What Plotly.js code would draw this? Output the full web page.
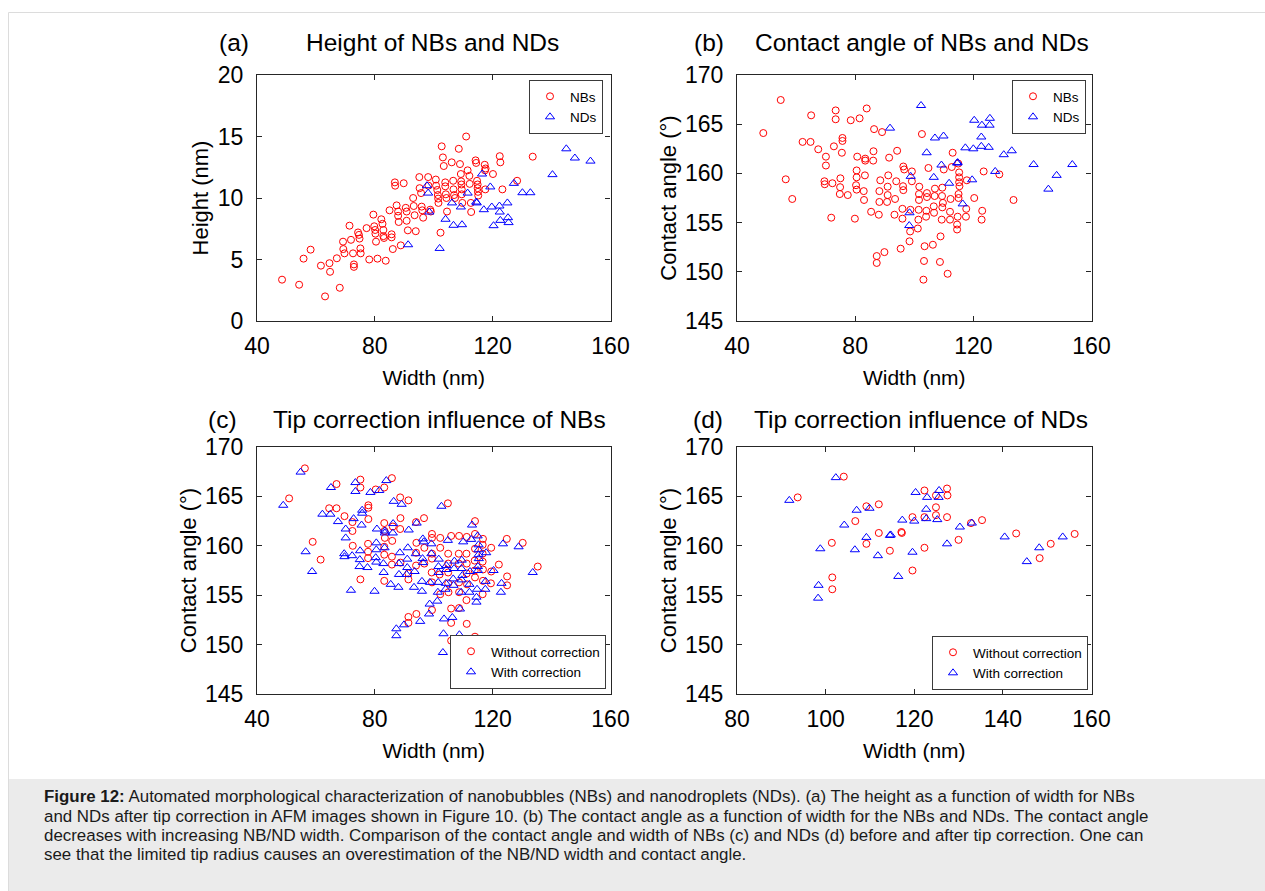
<!DOCTYPE html>
<html>
<head>
<meta charset="utf-8">
<script src="https://cdn.plot.ly/plotly-3.0.1.min.js"></script>
<style>
  html, body { margin: 0; padding: 0; background: #ffffff; }
  #chart { width: 1265px; height: 891px; }
</style>
</head>
<body>
<div id="chart"></div>
<script>
// ---------------- data ----------------
// (a) Height vs width (after tip correction)
const nbWidthA = [48.5,54.3,55.8,58.2,61.7,64.6,64.8,63.1,68.1,67.1,
  69.7,69.3,69.2,71.4,71.9,72.6,72.9,72.9,74.3,74.6,
  74.8,75.1,75.2,77.2,78.1,79.5,79.8,80.1,80.2,80.4,
  80.9,82.2,82.6,82.9,82.9,83.1,83.7,85.0,85.7,86.1,
  85.7,86.8,86.9,89.8,87.4,87.9,87.9,88.1,88.8,90.5,
  90.8,90.8,91.2,93.0,93.2,93.5,93.9,95.1,95.2,95.7,
  95.9,96.1,96.4,98.1,98.2,98.8,99.0,100.7,100.8,101.2,
  101.4,101.5,101.6,102.3,102.7,103.1,103.4,103.9,103.9,104.1,
  104.3,104.5,106.1,106.6,106.7,106.9,107.2,108.5,108.9,109.2,
  109.3,109.4,109.5,109.5,109.7,111.0,111.5,112.1,112.2,112.6,
  112.7,114.2,114.4,114.7,114.9,114.9,115.0,115.1,117.3,117.4,
  117.5,117.6,120.1,122.4,122.6,123.3,128.3,133.6];
const nbHeightA = [3.36,2.95,5.07,5.8,4.5,4.7,4.0,2.0,2.7,5.1,
  5.5,5.85,6.45,7.75,6.6,5.5,4.6,4.4,7.2,7.0,
  6.7,5.9,5.5,7.55,5.0,8.65,7.7,7.4,7.1,6.45,
  5.07,8.27,7.9,7.4,6.9,6.75,4.9,9.0,7.05,5.85,
  6.8,11.27,11.0,11.2,9.4,8.9,8.55,8.05,6.15,9.2,
  8.9,8.15,7.37,10.0,9.35,8.6,7.3,11.7,10.8,10.4,
  9.3,9.0,8.4,11.7,11.0,9.05,8.9,11.5,11.0,10.65,
  10.24,9.95,9.6,7.18,14.2,13.3,12.6,11.27,10.95,10.3,
  10.0,8.9,12.9,11.4,10.7,10.24,10.0,14.0,12.76,11.95,
  11.35,11.1,10.7,10.3,9.6,15.0,12.25,11.8,11.15,9.6,
  8.86,13.06,12.85,11.4,11.1,10.8,10.5,10.2,12.7,12.25,
  10.7,12.4,11.95,13.4,12.9,10.7,11.4,13.36];
const ndWidthA = [91.3,102.0,97.7,98.1,98.5,104.0,106.2,106.7,109.2,109.6,
  111.5,114.4,114.6,116.4,117.0,119.2,119.7,120.3,122.3,122.4,
  122.6,125.0,125.2,125.4,127.2,130.1,132.8,140.3,145.0,147.9,153.2];
const ndHeightA = [6.2,5.9,11.0,10.4,8.86,8.27,9.6,7.78,9.27,7.83,
  10.4,9.67,9.6,11.95,9.05,10.9,9.27,7.75,9.35,8.86,
  8.18,9.6,8.4,8.0,11.19,10.43,10.43,11.9,14.0,13.25,13.0];

// (b) Contact angle vs width (after tip correction) - also the "With correction" series of (c) and (d)
const nbWidthB = [54.8,48.9,65.1,73.4,73.4,78.5,81.5,83.9,86.4,89.1,
  62.2,64.9,67.5,70.1,70.1,72.8,75.7,75.7,75.5,80.7,
  83.4,83.4,86.1,86.2,91.5,94.2,56.5,58.7,69.6,69.7,
  72.3,75.0,74.9,74.8,77.5,80.5,80.5,80.3,80.5,82.9,
  83.0,83.3,71.9,79.9,85.4,88.0,88.5,88.2,88.2,91.2,
  91.0,91.0,90.8,93.5,93.3,93.9,96.3,96.6,99.2,99.2,
  96.2,96.3,96.0,96.0,98.7,98.6,98.4,95.4,89.9,87.3,
  87.3,101.2,101.4,101.5,101.6,101.6,101.7,104.0,104.1,104.3,
  104.3,104.8,102.6,103.5,106.3,103.3,103.1,108.7,111.3,108.9,
  106.6,106.7,106.9,107.0,109.5,109.4,109.7,109.5,109.3,112.1,
  112.1,112.3,110.0,112.7,113.0,114.9,115.2,115.2,115.2,115.3,
  115.0,115.0,114.7,114.5,114.5,117.6,117.5,117.8,120.3,123.0,
  122.8,123.5,128.8,133.6];
const nbAngleB = [167.46,164.1,165.9,166.4,165.5,165.4,165.6,166.6,164.5,164.2,
  163.2,163.2,162.45,161.7,160.8,162.75,163.6,163.3,162.1,161.7,
  161.5,161.3,161.3,162.25,161.6,162.3,159.4,157.4,159.2,158.9,
  159.0,159.5,158.6,157.9,157.8,160.3,159.6,158.8,158.35,158.2,
  157.3,159.8,155.5,155.4,156.1,155.8,159.3,158.2,157.1,159.8,
  158.65,157.8,157.1,157.4,155.8,159.2,160.7,160.4,160.2,159.2,
  158.7,158.3,156.4,155.4,156.3,154.1,153.1,152.35,152.0,151.6,
  150.9,154.4,155.3,156.3,157.3,157.9,158.65,155.6,156.2,158.0,
  157.6,160.55,164.0,152.6,152.75,151.1,149.2,151.0,149.8,153.6,
  156.65,156.0,157.7,158.45,158.55,157.7,157.0,156.55,155.3,156.1,
  155.3,157.4,160.4,160.65,162.1,161.0,160.1,159.6,159.1,158.7,
  157.9,157.5,155.6,154.8,154.3,156.4,155.6,159.3,157.5,156.2,
  155.3,160.2,159.9,157.3];
const ndWidthB = [102.3,91.8,104.2,107.0,109.9,109.2,106.6,98.8,111.8,98.4,
  98.3,114.5,114.7,116.4,117.3,120.0,122.7,125.2,120.3,122.9,
  125.5,125.6,122.7,119.6,127.4,130.3,133.0,140.4,145.4,148.2,153.5];
const ndAngleB = [166.9,164.6,162.1,163.6,163.8,160.85,159.6,159.7,159.0,156.0,
  154.7,161.05,161.1,156.9,162.6,162.5,162.75,162.65,165.4,164.9,
  164.9,165.6,163.7,159.35,160.2,161.9,162.3,160.9,158.4,159.8,160.9];

// (c) NBs without tip correction
const nbWidthRaw = [56.25,50.9,67.0,64.5,67.0,58.9,61.6,69.7,72.4,72.4,
  72.5,75.1,75.1,77.8,77.8,77.8,77.7,77.7,77.7,80.3,
  83.2,85.8,83.2,83.3,83.4,83.2,83.2,86.1,85.9,85.8,
  85.8,88.6,91.4,88.7,88.6,83.2,75.1,88.7,91.4,91.4,
  94.0,96.7,94.1,94.0,94.0,96.8,96.8,99.4,99.4,99.4,
  99.4,102.2,102.2,102.0,99.3,99.4,104.8,104.9,104.9,104.9,
  104.9,105.0,102.2,99.4,94.1,91.4,91.4,105.9,105.9,105.9,
  108.6,111.2,114.0,108.6,108.6,108.5,108.5,105.9,108.6,111.2,
  111.1,111.2,111.2,111.3,111.1,114.0,114.0,114.0,113.9,113.9,
  114.0,116.7,116.6,116.6,116.6,116.7,116.7,116.6,119.5,119.5,
  119.4,122.1,124.8,124.9,124.9,130.2,135.3];
const nbAngleRaw = [167.84,164.8,166.25,163.8,163.8,160.4,158.6,163.0,162.4,161.5,
  160.0,166.7,165.9,164.1,163.85,162.7,160.2,159.4,158.75,165.7,
  165.9,166.85,162.3,161.5,160.8,159.9,159.1,161.95,160.5,158.9,
  158.1,164.9,164.6,162.8,161.7,156.45,156.6,158.3,157.2,156.6,
  162.4,162.8,160.3,159.3,158.0,159.8,158.2,161.2,160.8,159.2,
  158.7,160.8,159.8,157.1,157.3,156.3,164.3,159.2,158.2,157.3,
  156.2,155.3,155.1,153.5,153.1,152.8,152.2,153.65,152.2,150.4,
  153.7,152.1,150.8,155.3,156.3,158.2,159.2,161.0,161.0,160.9,
  159.2,158.2,157.2,156.1,154.5,162.5,161.2,159.7,158.5,157.5,
  156.8,160.7,160.1,159.2,158.4,157.6,156.45,155.1,159.8,157.4,
  156.2,158.1,160.7,156.9,156.0,160.3,157.9];

// (d) NDs without tip correction
const ndWidthRaw = [93.7,104.1,101.4,101.5,101.5,106.7,109.2,112.0,109.2,112.0,
  114.5,117.1,117.2,119.6,119.6,122.3,122.3,122.3,124.9,124.9,
  124.9,127.4,127.5,127.4,130.0,132.8,135.3,143.0,148.3,150.8,156.2];
const ndAngleRaw = [164.9,167.0,160.3,156.8,155.6,162.5,164.0,164.2,160.2,161.3,
  159.5,161.4,161.3,162.9,157.5,165.6,162.9,159.8,165.1,163.9,
  163.1,165.8,165.1,162.9,160.6,162.3,162.6,161.25,158.75,160.2,161.2];

// tick labels
const xTicksWide = [40, 80, 120, 160];
const xTicksND = [80, 100, 120, 140, 160];
const yTicksHeight = [0, 5, 10, 15, 20];
const yTicksAngle = [145, 150, 155, 160, 165, 170];

// texts
const panelTags = ['(a)', '(b)', '(c)', '(d)'];
const panelTitles = ['Height of NBs and NDs', 'Contact angle of NBs and NDs',
  'Tip correction influence of NBs', 'Tip correction influence of NDs'];
const captionLines = [
  '<b>Figure 12:</b> Automated morphological characterization of nanobubbles (NBs) and nanodroplets (NDs). (a) The height as a function of width for NBs',
  'and NDs after tip correction in AFM images shown in Figure 10. (b) The contact angle as a function of width for the NBs and NDs. The contact angle',
  'decreases with increasing NB/ND width. Comparison of the contact angle and width of NBs (c) and NDs (d) before and after tip correction. One can',
  'see that the limited tip radius causes an overestimation of the NB/ND width and contact angle.'
];

// ---------------- layout helpers (pixel -> paper) ----------------
const W = 1265, H = 891;
const px = v => v / W;
const py = v => 1 - v / H;
const FONT = 'Liberation Sans, Arial, Helvetica, sans-serif';

function axis(domain, range, tickvals, titleText, anchor, isY) {
  return {
    domain: domain, range: range, anchor: anchor,
    tickvals: tickvals, ticktext: tickvals.map(String),
    showline: true, linecolor: '#262626', linewidth: 1.3, mirror: 'allticks',
    ticks: 'inside', ticklen: 5, tickwidth: 1.3, tickcolor: '#262626',
    showgrid: false, zeroline: false, fixedrange: true,
    ticklabelstandoff: isY ? 8 : 4,
    tickfont: { family: FONT, size: 23, color: '#000' },
    title: { text: titleText, font: { family: FONT, size: isY ? 22 : 21, color: '#000' }, standoff: isY ? 2 : 12 }
  };
}

const red = '#ff0000', blue = '#0000ff';
function circles(x, y, name, xa, ya, lg) {
  return { type: 'scatter', mode: 'markers', x: x, y: y, name: name, xaxis: xa, yaxis: ya, legend: lg,
    marker: { symbol: 'circle-open', size: 7, color: red, line: { width: 1, color: red } }, hoverinfo: 'x+y' };
}
function triangles(x, y, name, xa, ya, lg) {
  return { type: 'scatter', mode: 'markers', x: x, y: y, name: name, xaxis: xa, yaxis: ya, legend: lg,
    marker: { symbol: 'triangle-up-open', size: 8, color: blue, line: { width: 1, color: blue } }, hoverinfo: 'x+y' };
}

const traces = [
  circles(nbWidthA, nbHeightA, 'NBs', 'x', 'y', 'legend'),
  triangles(ndWidthA, ndHeightA, 'NDs', 'x', 'y', 'legend'),
  circles(nbWidthB, nbAngleB, 'NBs', 'x2', 'y2', 'legend2'),
  triangles(ndWidthB, ndAngleB, 'NDs', 'x2', 'y2', 'legend2'),
  circles(nbWidthRaw, nbAngleRaw, 'Without correction', 'x3', 'y3', 'legend3'),
  triangles(nbWidthB, nbAngleB, 'With correction', 'x3', 'y3', 'legend3'),
  circles(ndWidthRaw, ndAngleRaw, 'Without correction', 'x4', 'y4', 'legend4'),
  triangles(ndWidthB, ndAngleB, 'With correction', 'x4', 'y4', 'legend4')
];

const leftDom = [px(257), px(610.5)];
const rightDom = [px(737), px(1091.5)];
const topDom = [py(321), py(75)];
const botDom = [py(694), py(447)];

function legendBox(xr, yr, anchorY) {
  return { x: px(xr), y: py(yr), xanchor: 'right', yanchor: anchorY, xref: 'paper', yref: 'paper',
    bgcolor: '#ffffff', bordercolor: '#3a3a3a', borderwidth: 1, itemwidth: 30, tracegroupgap: 0,
    font: { family: FONT, size: 13.5, color: '#000' } };
}

const annotations = [];
const tagPos = [[218, 42], [693, 42], [207, 419], [692.5, 419]];
const titlePos = [[304.5, 42], [754, 42], [272, 419], [752.5, 419]];
for (let i = 0; i < 4; i++) {
  annotations.push({ text: panelTags[i], x: px(tagPos[i][0] - 1), y: py(tagPos[i][1]), xref: 'paper', yref: 'paper',
    xanchor: 'left', yanchor: 'middle', showarrow: false, font: { family: FONT, size: 24.5, color: '#000' } });
  annotations.push({ text: panelTitles[i], x: px(titlePos[i][0] - 1), y: py(titlePos[i][1]), xref: 'paper', yref: 'paper',
    xanchor: 'left', yanchor: 'middle', showarrow: false, font: { family: FONT, size: 24.5, color: '#000' } });
}
const captionY = [796, 816, 835, 854];
captionLines.forEach((t, i) => {
  annotations.push({ text: t, x: px(41.5), y: py(captionY[i]), xref: 'paper', yref: 'paper',
    xanchor: 'left', yanchor: 'middle', showarrow: false, align: 'left',
    font: { family: FONT, size: 16.9, color: '#1a1a1a' } });
});

const layout = {
  width: W, height: H,
  margin: { l: 0, r: 0, t: 0, b: 0, pad: 0 },
  paper_bgcolor: '#ffffff', plot_bgcolor: '#ffffff',
  font: { family: FONT, color: '#000' },
  showlegend: true,
  xaxis: axis(leftDom, [40, 160], xTicksWide, 'Width (nm)', 'y', false),
  yaxis: axis(topDom, [0, 20], yTicksHeight, 'Height (nm)', 'x', true),
  xaxis2: axis(rightDom, [40, 160], xTicksWide, 'Width (nm)', 'y2', false),
  yaxis2: axis(topDom, [145, 170], yTicksAngle, 'Contact angle (°)', 'x2', true),
  xaxis3: axis(leftDom, [40, 160], xTicksWide, 'Width (nm)', 'y3', false),
  yaxis3: axis(botDom, [145, 170], yTicksAngle, 'Contact angle (°)', 'x3', true),
  xaxis4: axis(rightDom, [80, 160], xTicksND, 'Width (nm)', 'y4', false),
  yaxis4: axis(botDom, [145, 170], yTicksAngle, 'Contact angle (°)', 'x4', true),
  legend: legendBox(603, 80, 'top'),
  legend2: legendBox(1086, 80, 'top'),
  legend3: legendBox(606, 689, 'bottom'),
  legend4: legendBox(1088, 690, 'bottom'),
  annotations: annotations,
  shapes: [
    { type: 'rect', xref: 'paper', yref: 'paper', x0: px(8), x1: px(1266), y0: py(891.5), y1: py(779),
      fillcolor: '#ebebeb', line: { width: 0 }, layer: 'below' },
    { type: 'rect', xref: 'paper', yref: 'paper', x0: px(8.5), x1: px(1266), y0: py(892), y1: py(12.5),
      fillcolor: 'rgba(0,0,0,0)', line: { width: 1, color: '#dcdcdc' }, layer: 'below' }
  ]
};

Plotly.newPlot('chart', traces, layout, { displayModeBar: false, responsive: false, staticPlot: false });
</script>
</body>
</html>
